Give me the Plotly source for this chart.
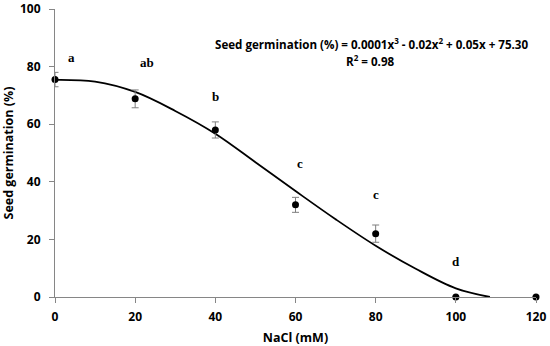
import plotly.graph_objects as go

# Observed data (means and standard errors)
nacl = [0, 20, 40, 60, 80, 100, 120]
germination = [75.5, 68.8, 58.0, 32.0, 22.0, 0.0, 0.0]
err = [2.5, 3.1, 2.8, 2.6, 3.0, 0.0, 0.0]

# Trendline
trend_x = [0, 10, 20, 30, 40, 50, 60, 70, 80, 90, 100, 108.5]
trend_y = [75.4, 74.8, 71.2, 64.6, 56.7, 46.8, 36.8, 27.0, 17.8, 9.8, 3.0, 0.0]

# Significance letters
letter_text = ["a", "ab", "b", "c", "c", "d"]
letter_x = [4.2, 23, 40, 61.2, 80, 100]
letter_y = [83, 81.5, 69.5, 46.5, 35.5, 12.5]

x_ticks = [0, 20, 40, 60, 80, 100, 120]
y_ticks = [0, 20, 40, 60, 80, 100]

W, H = 550, 346
L, R, T, B = 55, 14, 9, 48.5
pw, ph = W - L - R, H - T - B

fig = go.Figure()
fig.add_trace(go.Scatter(
    x=trend_x, y=trend_y, mode="lines", line=dict(color="black", width=1.8, shape="spline"),
    hoverinfo="skip", showlegend=False))
fig.add_trace(go.Scatter(
    x=nacl, y=germination, mode="markers",
    marker=dict(color="black", size=7),
    error_y=dict(type="data", array=err, visible=True, color="#7f7f7f", thickness=1, width=3.5),
    cliponaxis=False, showlegend=False))

for t, lx, ly in zip(letter_text, letter_x, letter_y):
    fig.add_annotation(x=lx, y=ly, xref="x", yref="y", showarrow=False,
                       text=f"<b>{t}</b>",
                       font=dict(family="Liberation Serif", size=13, color="black"))


def px_to_paper(xp, yp):
    return (xp - L) / pw, 1 - (yp - T) / ph


ex, ey = px_to_paper(371, 33)
fig.add_annotation(
    x=ex, y=ey, xref="paper", yref="paper", showarrow=False,
    text="<b>Seed germination (%) = 0.0001x<sup>3</sup> - 0.02x<sup>2</sup> + 0.05x + 75.30</b>",
    font=dict(family="Open Sans", size=11.6, color="black"))
rx, ry = px_to_paper(370, 50)
fig.add_annotation(
    x=rx, y=ry, xref="paper", yref="paper", showarrow=False,
    text="<b>R<sup>2</sup> = 0.98</b>",
    font=dict(family="Open Sans", size=11.6, color="black"))

fig.update_layout(
    width=W, height=H, margin=dict(l=L, r=R, t=T, b=B, autoexpand=False),
    paper_bgcolor="white", plot_bgcolor="white",
    font=dict(family="Open Sans", color="black"),
    xaxis=dict(range=[0, 120], tickvals=x_ticks, ticktext=[f"<b>{v}</b>" for v in x_ticks],
               automargin=False,
               showgrid=False, zeroline=False, showline=True, linecolor="#868686", linewidth=1,
               ticks="outside", ticklen=5, tickcolor="#868686", ticklabelstandoff=4,
               tickfont=dict(size=12, family="Open Sans"),
               title=dict(text="<b>NaCl (mM)</b>", font=dict(size=12.5, family="Open Sans"), standoff=8)),
    yaxis=dict(range=[0, 100], tickvals=y_ticks, ticktext=[f"<b>{v}</b>" for v in y_ticks],
               automargin=False,
               showgrid=False, zeroline=False, showline=True, linecolor="#868686", linewidth=1,
               ticks="outside", ticklen=5, tickcolor="#868686", ticklabelstandoff=6,
               tickfont=dict(size=12, family="Open Sans"),
               title=dict(text="<b>Seed germination (%)</b>", font=dict(size=12.5, family="Open Sans"), standoff=7)),
)

fig.write_html("out.html", config={"displayModeBar": False},
               post_script="document.body.style.margin='0';")
